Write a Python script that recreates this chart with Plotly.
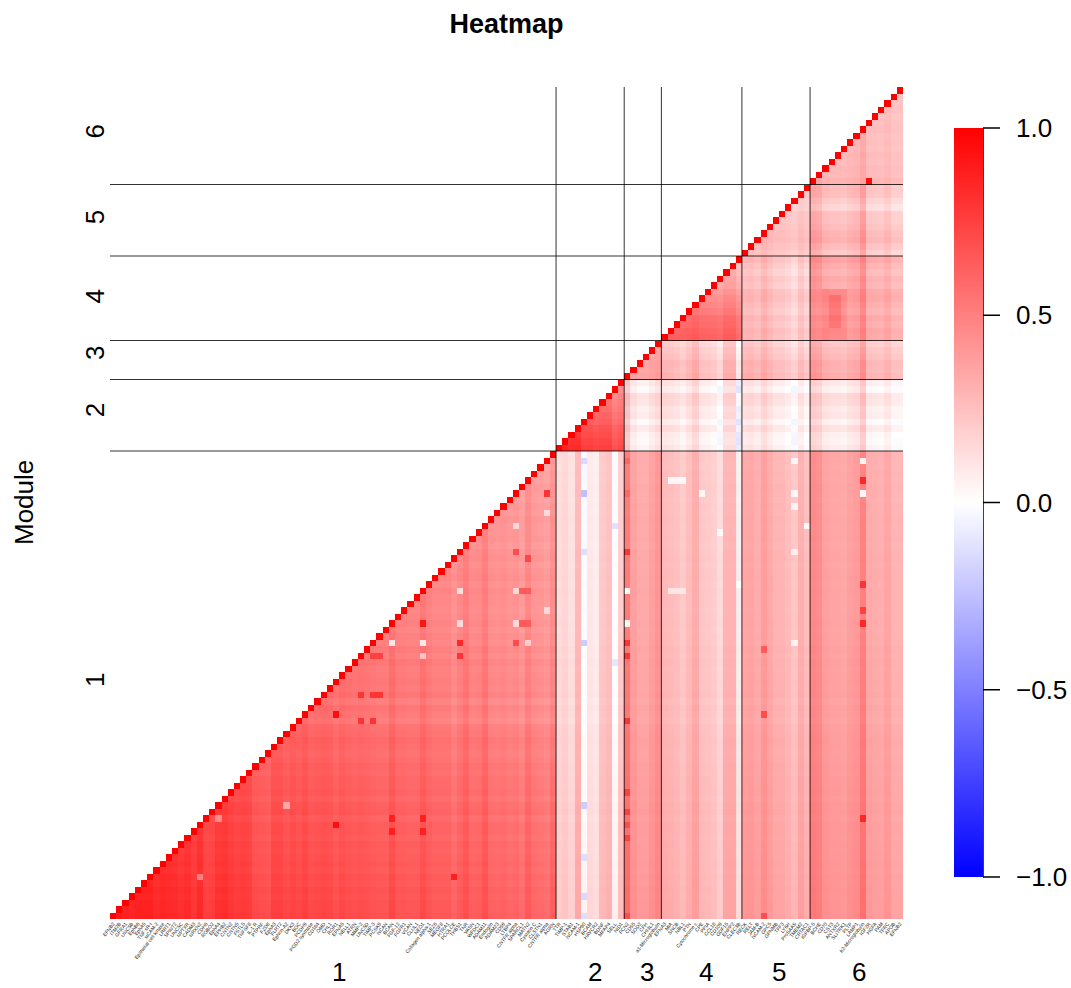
import plotly.graph_objects as go

# Values below are estimates: one mean per module pair, one
# stripe level per column and per row, plus the individually visible outlier cells.
# The finest cell-to-cell texture could not be read cell by cell and is not invented.

MODULE_SIZES = [72, 11, 6, 13, 11, 15]
MODULE_NAMES = ["1", "2", "3", "4", "5", "6"]

gene_labels = [
    "EFNB2", "ITM2B", "GFRA1", "UNC5B", "EphB6", "EphA5", "TNF sR-I", "sICAM-2", "Epithelial cell kinase", "LRRT1", "SPINT2", "UNC5C",
    "NPTXR", "CADM3", "NRXN2", "CDH6", "ROBO2", "EphA4", "EPHB2", "CNTN2", "CNTN5", "FSTL5", "TNFSF8", "IL-1 R", "PTPRF",
    "FZD8", "EphA3", "FLRT2", "Ephrin-A2", "DKK3", "BOC", "PCDH9", "PGD2 synthase", "CD164", "OMD", "CHL1", "ROR1",
    "EFNA5", "NELL1", "ATRN", "MMP-2", "UNC5D", "TIMP-3", "PCSK9", "NCAN", "BCAN", "FGF-12", "FGFR1", "VCAN", "CLUL1",
    "NEO1", "Collagen alpha-1", "SEZ6", "MEGF8", "HTRA1", "PCOLCE", "THBS1", "TNR", "VASN", "WFDC1", "ADAM11", "Endoglin",
    "ADAM23", "CD59", "LTBP4", "CNTFR alpha", "SPARCL1", "MATN2", "Cystatin C", "CLSTN1", "CNTFR alpha", "AGRN",
    "TTR", "TIMP-1", "STAB1", "NCAM-1", "HSP90", "BCAM", "HAVCR2", "BDNF", "MFAP4", "SELL", "NID1",
    "FCN2", "CD55", "SOD2", "CFH", "CHI3L1", "a1-Microglobulin",
    "EFNA3", "MIA", "SNCB", "NBL1", "PTN", "Cytochrome c", "CPE", "PPIA", "CCL18", "CD109", "GDF15", "ENPP2", "CLEC3B",
    "RECK", "RELT", "JAM-B", "NCAM-2", "GPC5", "GPNMB", "TFF3", "LY6H", "ProSAAS", "TMEM2", "CRTAC1",
    "IGFBP-5", "BCHE", "CD70", "CST3", "ANTXR2", "SLITRK1", "PLTP", "LAMP1", "b2-Microglobulin", "IGF2R", "HGFA", "PAM", "TFRC", "APOB", "EFNB2",
]

module_mean_m1 = [0.50, 0.13, 0.38, 0.27, 0.33, 0.37]
module_mean_m2 = [None, 0.60, 0.10, 0.12, 0.10, 0.10]
module_mean_m3 = [None, None, 0.35, 0.25, 0.25, 0.28]
module_mean_m4 = [None, None, None, 0.45, 0.25, 0.35]
module_mean_m5 = [None, None, None, None, 0.25, 0.25]
module_mean_m6 = [None, None, None, None, None, 0.27]
module_means = [module_mean_m1, module_mean_m2, module_mean_m3, module_mean_m4, module_mean_m5, module_mean_m6]

col_level_m1 = [.20, .22, .20, .18, .20, .20, .20, .16, .18, .17,
                .16, .14, .16, .12, .17, .08, .09, .14, .15, .12,
                .10, .11, .10, .04, .03, .02, .08, .08, .05, .07,
                .05, .08, .04, .05, .06, .05, .02, .05, .03, .02,
                .03, .02, .01, .00, .00, .05, .00, .00, -.01, -.01,
                .04, .00, -.02, -.02, -.02, -.06, -.02, .02, -.04, -.03,
                .02, -.05, -.06, -.05, -.07, -.06, -.09, -.02, -.07, -.08, -.10, -.04]
col_level_m2 = [.02, .04, .00, .15, -.14, -.03, -.05, .09, .12, -.13, .07]
col_level_m3 = [.14, .00, -.04, -.04, .00, .04]
col_level_m4 = [.01, .00, -.02, -.05, .00, .06, -.04, -.05, -.07, -.12, .03, .03, -.19]
col_level_m5 = [.02, .03, .00, .06, .01, -.03, -.03, -.06, -.10, -.01, -.07]
col_level_m6 = [.10, .08, .01, -.01, -.01, -.02, .01, .03, .13, -.03, -.04, -.05, -.01, -.07, -.07]

row_level_m1 = [.18, .17, .17, .16, .17, .15, .16, .14, .15, .14,
                .13, .14, .12, .13, .13, .10, .13, .12, .09, .11,
                .10, .10, .08, .09, .07, .06, .07, .08, .06, .05,
                .00, .02, .04, .00, .04, .02, .03, .02, .01, .03,
                .00, .02, -.01, .00, -.02, .00, -.01, -.02, -.01, -.01,
                .00, -.02, .00, -.01, -.03, -.01, -.02, -.04, -.02, -.03,
                -.03, -.02, -.04, -.03, -.05, -.04, -.03, -.05, -.04, -.06, -.05, -.04]
row_level_m2 = [-.01, -.04, -.03, .02, -.04, .01, .00, .04, .05, -.04, .00]
row_level_m3 = [.05, .03, .04, .00, -.02, -.05]
row_level_m4 = [.02, .03, .00, .02, -.02, .00, .03, .02, -.03, -.01, -.05, -.02, .02]
row_level_m5 = [-.03, .02, .07, .05, .02, .00, .00, -.08, -.04, .01, .02]
row_level_m6 = [.07, .02, .03, .00, .02, -.02, .00, -.01, .02, .00, -.02, .02, .00, .00, .00]

inner_row_m2 = [.15, .13, .10, .07, .03, .00, -.03, -.06, -.09, -.11, -.13]
inner_col_m2 = [.10, .10, .08, .06, .04, .02, .00, -.01, -.02, -.04, -.05]
inner_row_m4 = [.18, .16, .14, .12, .08, .04, .00, -.04, -.08, -.10, -.12, -.14, -.16]

within_module_gain = [1.0, 0.2, 0.5, 0.3, 0.5, 0.5]
off_module_row_gain = 0.35

# (column, row counted from the bottom, value)
single_cells = [
    (36, 31, .95), (50, 45, .92), (70, 65, .80), (67, 55, .72), (56, 50, .12), (65, 50, .15), (66, 50, .65), (67, 50, .65),
    (56, 45, .15), (65, 45, .15), (66, 45, .65), (67, 45, .65), (45, 42, .10), (50, 42, .10), (56, 42, .85), (56, 40, .80),
    (42, 40, .75), (43, 40, .75), (50, 40, .25), (65, 42, .70), (67, 42, .20), (65, 56, .70), (70, 62, .15), (70, 47, .15),
    (65, 60, .15), (40, 34, .80), (42, 34, .80), (43, 34, .80), (36, 14, .95), (45, 15, .88), (50, 15, .88), (45, 13, .88),
    (50, 13, .88), (55, 6, .88), (40, 30, .80), (42, 30, .80), (28, 17, .35), (17, 15, .45), (14, 6, .50),
    (76, 65, -.25), (76, 42, -.20), (76, 70, -.15), (76, 56, -.13), (76, 17, -.20), (76, 3, -.15), (76, 9, -.13), (76, 0, -.13),
    (81, 60, -.12), (81, 39, -.10),
    (83, 70, .60), (83, 65, .60), (83, 56, .80), (83, 50, .03), (83, 45, .05), (83, 42, .80), (83, 40, .80), (83, 30, .80),
    (83, 19, .75), (83, 16, .75), (83, 12, .75), (83, 14, .70), (83, 0, .70),
    (121, 67, .85), (121, 65, .03), (121, 70, .05), (121, 51, .80), (121, 47, .75), (121, 45, .85), (121, 15, .85),
    (110, 70, .03), (110, 65, .03), (110, 63, .05), (110, 56, .07), (112, 60, .03), (110, 42, .05), (105, 41, .65), (105, 31, .70),
    (105, 0, .70), (90, 67, .03), (91, 67, .03), (92, 67, .03), (95, 65, .03), (98, 59, .02), (90, 50, .10), (91, 50, .10),
    (92, 50, .10), (101, 51, .00), (122, 113, .95),
]
# (first column, last column, first row, last row, added level)
dark_patches = [(115, 118, 89, 96, .10), (116, 117, 91, 95, .10)]

COLORS = [[0, "#0000ff"], [0.5, "#ffffff"], [1, "#ff0000"]]
COLORBAR_TICKS = [-1.0, -0.5, 0.0, 0.5, 1.0]
COLORBAR_LABELS = ["\u22121.0", "\u22120.5", "0.0", "0.5", "1.0"]
module_x_label_cells = [36.5, 77.8, 86.2, 95.7, 107.5, 120.4]
module_y_label_cells = [35.7, 77.2, 86.0, 94.7, 106.9, 120.1]

col_level = col_level_m1 + col_level_m2 + col_level_m3 + col_level_m4 + col_level_m5 + col_level_m6
row_level = row_level_m1 + row_level_m2 + row_level_m3 + row_level_m4 + row_level_m5 + row_level_m6
n = len(col_level)

module_of = []
for m, size in enumerate(MODULE_SIZES):
    module_of += [m] * size
starts = [sum(MODULE_SIZES[:m]) for m in range(6)]
inner_row = {1: inner_row_m2, 3: inner_row_m4}
inner_col = {1: inner_col_m2}

z = [[None] * n for _ in range(n)]
for b in range(n):
    mb = module_of[b]
    for a in range(b, n):
        ma = module_of[a]
        v = module_means[mb][ma]
        if ma == mb:
            g = within_module_gain[ma]
            v += g * (col_level[a] + row_level[b])
            if ma in inner_row:
                v += inner_row[ma][b - starts[ma]]
            if ma in inner_col:
                v += inner_col[ma][a - starts[ma]]
        else:
            v += col_level[a] + (row_level[b] * off_module_row_gain if mb == 0 else row_level[b])
        z[b][a] = max(-1, min(1, v))
for a0, a1, b0, b1, add in dark_patches:
    for b in range(b0, b1 + 1):
        for a in range(a0, a1 + 1):
            z[b][a] += add
for a, b, v in single_cells:
    z[b][a] = v
for i in range(n):
    z[i][i] = 1.0

PLOT_W, PLOT_H = 793, 832
BAR_X, BAR_Y, BAR_LEN, BAR_W = 844 / PLOT_W, 0.5006, 749, 29
TEXT = dict(size=26, color="black", family="Liberation Sans")

fig = go.Figure(go.Heatmap(
    x=list(range(n)), y=list(range(n)), z=z, zmin=-1, zmax=1, colorscale=COLORS, hoverongaps=False,
    colorbar=dict(
        x=BAR_X, xanchor="left", xpad=0, y=BAR_Y, yanchor="middle", ypad=0,
        len=BAR_LEN, lenmode="pixels", thickness=BAR_W, thicknessmode="pixels",
        tickmode="array", tickvals=COLORBAR_TICKS, ticks="", showticklabels=False, outlinewidth=0,
    ),
))

shapes = []
edges = [sum(MODULE_SIZES[:m]) - 0.5 for m in range(1, 6)]
for e in edges:
    shapes.append(dict(type="line", xref="x", yref="paper", x0=e, x1=e, y0=0, y1=1, line=dict(color="rgba(0,0,0,0.8)", width=1)))
    shapes.append(dict(type="line", xref="paper", yref="y", x0=0, x1=1, y0=e, y1=e, line=dict(color="rgba(0,0,0,0.8)", width=1)))
bar_right = BAR_X + BAR_W / PLOT_W
half = BAR_LEN / 2 / PLOT_H
shapes.append(dict(type="line", xref="paper", yref="paper", x0=bar_right, x1=bar_right,
                   y0=BAR_Y - half, y1=BAR_Y + half, line=dict(color="black", width=1.5)))

annotations = [dict(text="Module", xref="paper", yref="paper", x=(24 - 110) / PLOT_W, y=0.5, xanchor="center", yanchor="middle",
                    textangle=-90, showarrow=False, font=TEXT)]
for t, label in zip(COLORBAR_TICKS, COLORBAR_LABELS):
    ty = BAR_Y + t * half
    shapes.append(dict(type="line", xref="paper", yref="paper", x0=bar_right, x1=bar_right + 17 / PLOT_W,
                       y0=ty, y1=ty, line=dict(color="black", width=1.5)))
    annotations.append(dict(text=label, xref="paper", yref="paper", x=(1014 - 110) / PLOT_W, y=ty, xanchor="left", yanchor="middle",
                            showarrow=False, font=TEXT))
for cell, name in zip(module_x_label_cells, MODULE_NAMES):
    annotations.append(dict(text=name, xref="x", yref="paper", x=cell, y=(919 - 972) / PLOT_H, xanchor="center", yanchor="middle",
                            showarrow=False, font=TEXT))

fig.update_layout(
    width=1071, height=988, margin=dict(l=110, r=168, t=87, b=69), autosize=False,
    paper_bgcolor="white", plot_bgcolor="white",
    title=dict(text="<b>Heatmap</b>", x=506.5 / 1071, xanchor="center", y=1 - 24 / 988, yanchor="middle",
               font=dict(size=27, color="black", family="Liberation Sans")),
    xaxis=dict(range=[-0.5, n - 0.5], tickmode="array", tickvals=list(range(n)), ticktext=gene_labels, tickangle=-52,
               tickfont=dict(size=5, color="#222222", family="Liberation Sans"), ticks="", showgrid=False, zeroline=False,
               showline=False, automargin=False),
    yaxis=dict(range=[-0.5, n - 0.5], tickmode="array", tickvals=module_y_label_cells, ticktext=MODULE_NAMES, tickangle=-90,
               tickfont=dict(size=26, color="black", family="Liberation Sans"), ticks="", showgrid=False, zeroline=False,
               showline=False, automargin=False),
    shapes=shapes, annotations=annotations,
)
fig.write_html("out.html", config={"displayModeBar": False}, post_script="document.body.style.margin='0';")
